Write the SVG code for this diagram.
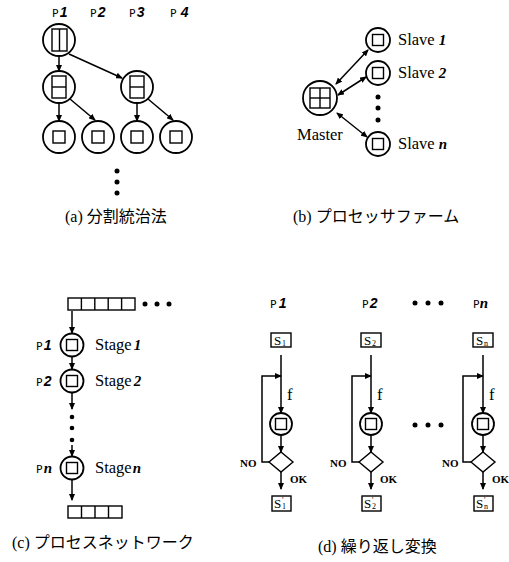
<svg xmlns="http://www.w3.org/2000/svg" width="509" height="562" viewBox="0 0 509 562">
<defs>
<marker id="ah" markerUnits="userSpaceOnUse" markerWidth="7" markerHeight="6" refX="6" refY="3" orient="auto-start-reverse"><path d="M0,0 L7,3 L0,6 z" fill="#000"/></marker>
</defs>
<style>
.c{fill:#fff;stroke:#000;stroke-width:1.8}
.r{fill:#fff;stroke:#000;stroke-width:1.4}
.l{fill:none;stroke:#000;stroke-width:1.4}
.a{fill:none;stroke:#000;stroke-width:1.5;marker-end:url(#ah)}
.d{fill:none;stroke:#000;stroke-width:1.5;marker-start:url(#ah);marker-end:url(#ah)}
.dot{fill:#000}
.t{font-family:"Liberation Serif",serif;font-size:16.5px;fill:#000}
.s{font-family:"Liberation Serif",serif;font-size:11px;font-weight:bold;fill:#000}
.p{font-family:"DejaVu Sans Mono","Liberation Mono",monospace;font-size:11px;fill:#000}
.bi{font-family:"Liberation Sans",sans-serif;font-weight:bold;font-style:italic;font-size:14px}
.bn{font-family:"Liberation Serif",serif;font-weight:bold;font-style:italic;font-size:15px}
.cap{font-family:"Liberation Serif","Noto Sans CJK JP",sans-serif;font-size:16px;fill:#000}
.bx{font-family:"Liberation Serif",serif;font-size:13px;fill:#000}
.sb{font-family:"Liberation Serif",serif;font-size:8px;fill:#000}
</style>
<rect width="509" height="562" fill="#fff"/>

<!-- (a) divide and conquer -->
<g id="a-labels">
<text class="p" x="52" y="17">P<tspan class="bi" dx="1">1</tspan></text>
<text class="p" x="90" y="17">P<tspan class="bi" dx="1">2</tspan></text>
<text class="p" x="129" y="17">P<tspan class="bi" dx="1">3</tspan></text>
<text class="p" x="170" y="17">P<tspan class="bi" dx="4">4</tspan></text>
</g>
<g id="a-top"><circle class="c" cx="59" cy="40" r="16"/><rect class="r" x="52" y="29" width="15" height="22"/><line class="l" x1="59.5" y1="29" x2="59.5" y2="51"/></g>
<g id="a-m1"><circle class="c" cx="59" cy="87" r="16"/><rect class="r" x="52" y="76" width="14" height="22"/><line class="l" x1="52" y1="87" x2="66" y2="87"/></g>
<g id="a-m2"><circle class="c" cx="137" cy="87" r="16"/><rect class="r" x="130" y="76" width="14" height="22"/><line class="l" x1="130" y1="87" x2="144" y2="87"/></g>
<g id="a-b1"><circle class="c" cx="59" cy="137" r="16"/><rect class="r" x="53" y="131" width="12" height="12"/></g>
<g id="a-b2"><circle class="c" cx="98" cy="137" r="16"/><rect class="r" x="92" y="131" width="12" height="12"/></g>
<g id="a-b3"><circle class="c" cx="137" cy="137" r="16"/><rect class="r" x="131" y="131" width="12" height="12"/></g>
<g id="a-b4"><circle class="c" cx="176" cy="137" r="16"/><rect class="r" x="170" y="131" width="12" height="12"/></g>
<g id="a-dots"><circle class="dot" cx="117" cy="171" r="2.5"/><circle class="dot" cx="117" cy="182" r="2.5"/><circle class="dot" cx="117" cy="193" r="2.5"/></g>
<text class="cap" x="65" y="222">(a) 分割統治法</text>

<!-- (b) processor farm -->
<g id="b-master"><circle class="c" cx="320" cy="98" r="17"/><rect class="r" x="310" y="88" width="20" height="20"/><line class="l" x1="320" y1="88" x2="320" y2="108"/><line class="l" x1="310" y1="98" x2="330" y2="98"/><text class="t" x="297" y="140">Master</text></g>
<g id="b-s1"><circle class="c" cx="378" cy="40" r="12"/><rect class="r" x="372.5" y="34.5" width="11" height="11"/><text class="t" x="398" y="45">Slave <tspan class="bn">1</tspan></text></g>
<g id="b-s2"><circle class="c" cx="378" cy="73" r="12"/><rect class="r" x="372.5" y="67.5" width="11" height="11"/><text class="t" x="398" y="78">Slave <tspan class="bn">2</tspan></text></g>
<g id="b-sn"><circle class="c" cx="378" cy="144" r="12"/><rect class="r" x="372.5" y="138.5" width="11" height="11"/><text class="t" x="398" y="149">Slave <tspan class="bn">n</tspan></text></g>
<g id="b-dots"><circle class="dot" cx="378" cy="97" r="2.5"/><circle class="dot" cx="378" cy="108" r="2.5"/><circle class="dot" cx="378" cy="120" r="2.5"/></g>
<text class="cap" x="293" y="222">(b) プロセッサファーム</text>

<!-- (c) process network -->
<g id="c-in"><rect class="r" x="68" y="298" width="67" height="12"/><line class="l" x1="81.4" y1="298" x2="81.4" y2="310"/><line class="l" x1="94.8" y1="298" x2="94.8" y2="310"/><line class="l" x1="108.2" y1="298" x2="108.2" y2="310"/><line class="l" x1="121.6" y1="298" x2="121.6" y2="310"/>
<circle class="dot" cx="145" cy="304" r="2.5"/><circle class="dot" cx="157" cy="304" r="2.5"/><circle class="dot" cx="169" cy="304" r="2.5"/></g>
<g id="c-p1"><circle class="c" cx="72" cy="345" r="11.5"/><rect class="r" x="66.5" y="339.5" width="11" height="11"/><text class="p" x="36" y="350">P<tspan class="bi" dx="1">1</tspan></text><text class="t" x="95" y="350">Stage<tspan class="bn" dx="2">1</tspan></text></g>
<g id="c-p2"><circle class="c" cx="72" cy="381" r="11.5"/><rect class="r" x="66.5" y="375.5" width="11" height="11"/><text class="p" x="36" y="386">P<tspan class="bi" dx="1">2</tspan></text><text class="t" x="95" y="386">Stage<tspan class="bn" dx="2">2</tspan></text></g>
<g id="c-dots"><circle class="dot" cx="72" cy="417" r="2.3"/><circle class="dot" cx="72" cy="428" r="2.3"/><circle class="dot" cx="72" cy="440" r="2.3"/></g>
<g id="c-pn"><circle class="c" cx="72" cy="468" r="11.5"/><rect class="r" x="66.5" y="462.5" width="11" height="11"/><text class="p" x="36" y="473">P<tspan class="bn" dx="1">n</tspan></text><text class="t" x="95" y="473">Stage<tspan class="bn" dx="1">n</tspan></text></g>
<g id="c-out"><rect class="r" x="68" y="506" width="54" height="12"/><line class="l" x1="81.5" y1="506" x2="81.5" y2="518"/><line class="l" x1="95" y1="506" x2="95" y2="518"/><line class="l" x1="108.5" y1="506" x2="108.5" y2="518"/></g>
<text class="cap" x="12" y="548">(c) プロセスネットワーク</text>

<!-- (d) iterative transformation -->
<g id="d-labels">
<text class="p" x="270" y="308">P<tspan class="bi" dx="2">1</tspan></text>
<text class="p" x="362" y="308">P<tspan class="bi" dx="1">2</tspan></text>
<text class="p" x="473" y="308">P<tspan class="bn" dx="0">n</tspan></text>
<circle class="dot" cx="415" cy="303" r="2.5"/><circle class="dot" cx="428" cy="303" r="2.5"/><circle class="dot" cx="441" cy="303" r="2.5"/>
<circle class="dot" cx="415" cy="425" r="2.5"/><circle class="dot" cx="428" cy="425" r="2.5"/><circle class="dot" cx="441" cy="425" r="2.5"/>
</g>
<g id="d-col1">
<rect class="r" x="271" y="333" width="20" height="14"/><text class="bx" x="274" y="345">S</text><text class="sb" x="282" y="346">1</text>
<circle class="c" cx="281" cy="424" r="11"/><rect class="r" x="275.5" y="418.5" width="11" height="11"/>
<polygon class="r" points="281,452 293,462 281,472 269,462"/>
<text class="t" x="287" y="400">f</text>
<text class="s" x="240" y="467">NO</text><text class="s" x="290" y="483">OK</text>
<rect class="r" x="272" y="496" width="19" height="15"/><text class="bx" x="274" y="508">S</text><text class="sb" x="282" y="503">'</text><text class="sb" x="282" y="509">1</text>
</g>
<g id="d-col2">
<rect class="r" x="361" y="333" width="20" height="14"/><text class="bx" x="364" y="345">S</text><text class="sb" x="372" y="346">2</text>
<circle class="c" cx="371" cy="424" r="11"/><rect class="r" x="365.5" y="418.5" width="11" height="11"/>
<polygon class="r" points="371,452 383,462 371,472 359,462"/>
<text class="t" x="377" y="400">f</text>
<text class="s" x="330" y="467">NO</text><text class="s" x="380" y="483">OK</text>
<rect class="r" x="362" y="496" width="19" height="15"/><text class="bx" x="364" y="508">S</text><text class="sb" x="372" y="503">'</text><text class="sb" x="372" y="509">2</text>
</g>
<g id="d-col3">
<rect class="r" x="473" y="333" width="20" height="14"/><text class="bx" x="476" y="345">S</text><text class="sb" x="484" y="346">n</text>
<circle class="c" cx="483" cy="424" r="11"/><rect class="r" x="477.5" y="418.5" width="11" height="11"/>
<polygon class="r" points="483,452 495,462 483,472 471,462"/>
<text class="t" x="489" y="400">f</text>
<text class="s" x="442" y="467">NO</text><text class="s" x="492" y="483">OK</text>
<rect class="r" x="474" y="496" width="19" height="15"/><text class="bx" x="476" y="508">S</text><text class="sb" x="484" y="503">'</text><text class="sb" x="484" y="509">n</text>
</g>
<text class="cap" x="318" y="552">(d) 繰り返し変換</text>

<g id="connectors">
<line class="a" x1="59" y1="56" x2="59" y2="71"/>
<line class="a" x1="69" y1="54" x2="122" y2="78"/>
<line class="a" x1="59" y1="103" x2="59" y2="121"/>
<line class="a" x1="70" y1="99" x2="95" y2="120"/>
<line class="a" x1="137" y1="103" x2="137" y2="121"/>
<line class="a" x1="148" y1="99" x2="173" y2="120"/>
<line class="d" x1="336" y1="84" x2="368" y2="50"/>
<line class="d" x1="338" y1="95" x2="366" y2="77"/>
<line class="d" x1="337" y1="113" x2="367" y2="137"/>
<line class="a" x1="72" y1="311" x2="72" y2="333"/>
<line class="a" x1="72" y1="357" x2="72" y2="369"/>
<line class="a" x1="72" y1="393" x2="72" y2="409"/>
<line class="a" x1="72" y1="445" x2="72" y2="456"/>
<line class="a" x1="72" y1="480" x2="72" y2="500"/>
<line class="a" x1="281" y1="355" x2="281" y2="413"/>
<polyline class="a" points="269,462 262,462 262,376 281,376"/>
<line class="a" x1="281" y1="435" x2="281" y2="452"/>
<line class="a" x1="281" y1="472" x2="281" y2="489"/>
<line class="a" x1="371" y1="355" x2="371" y2="413"/>
<polyline class="a" points="359,462 352,462 352,376 371,376"/>
<line class="a" x1="371" y1="435" x2="371" y2="452"/>
<line class="a" x1="371" y1="472" x2="371" y2="489"/>
<line class="a" x1="483" y1="355" x2="483" y2="413"/>
<polyline class="a" points="471,462 463,462 463,376 483,376"/>
<line class="a" x1="483" y1="435" x2="483" y2="452"/>
<line class="a" x1="483" y1="472" x2="483" y2="489"/>
</g>
</svg>
